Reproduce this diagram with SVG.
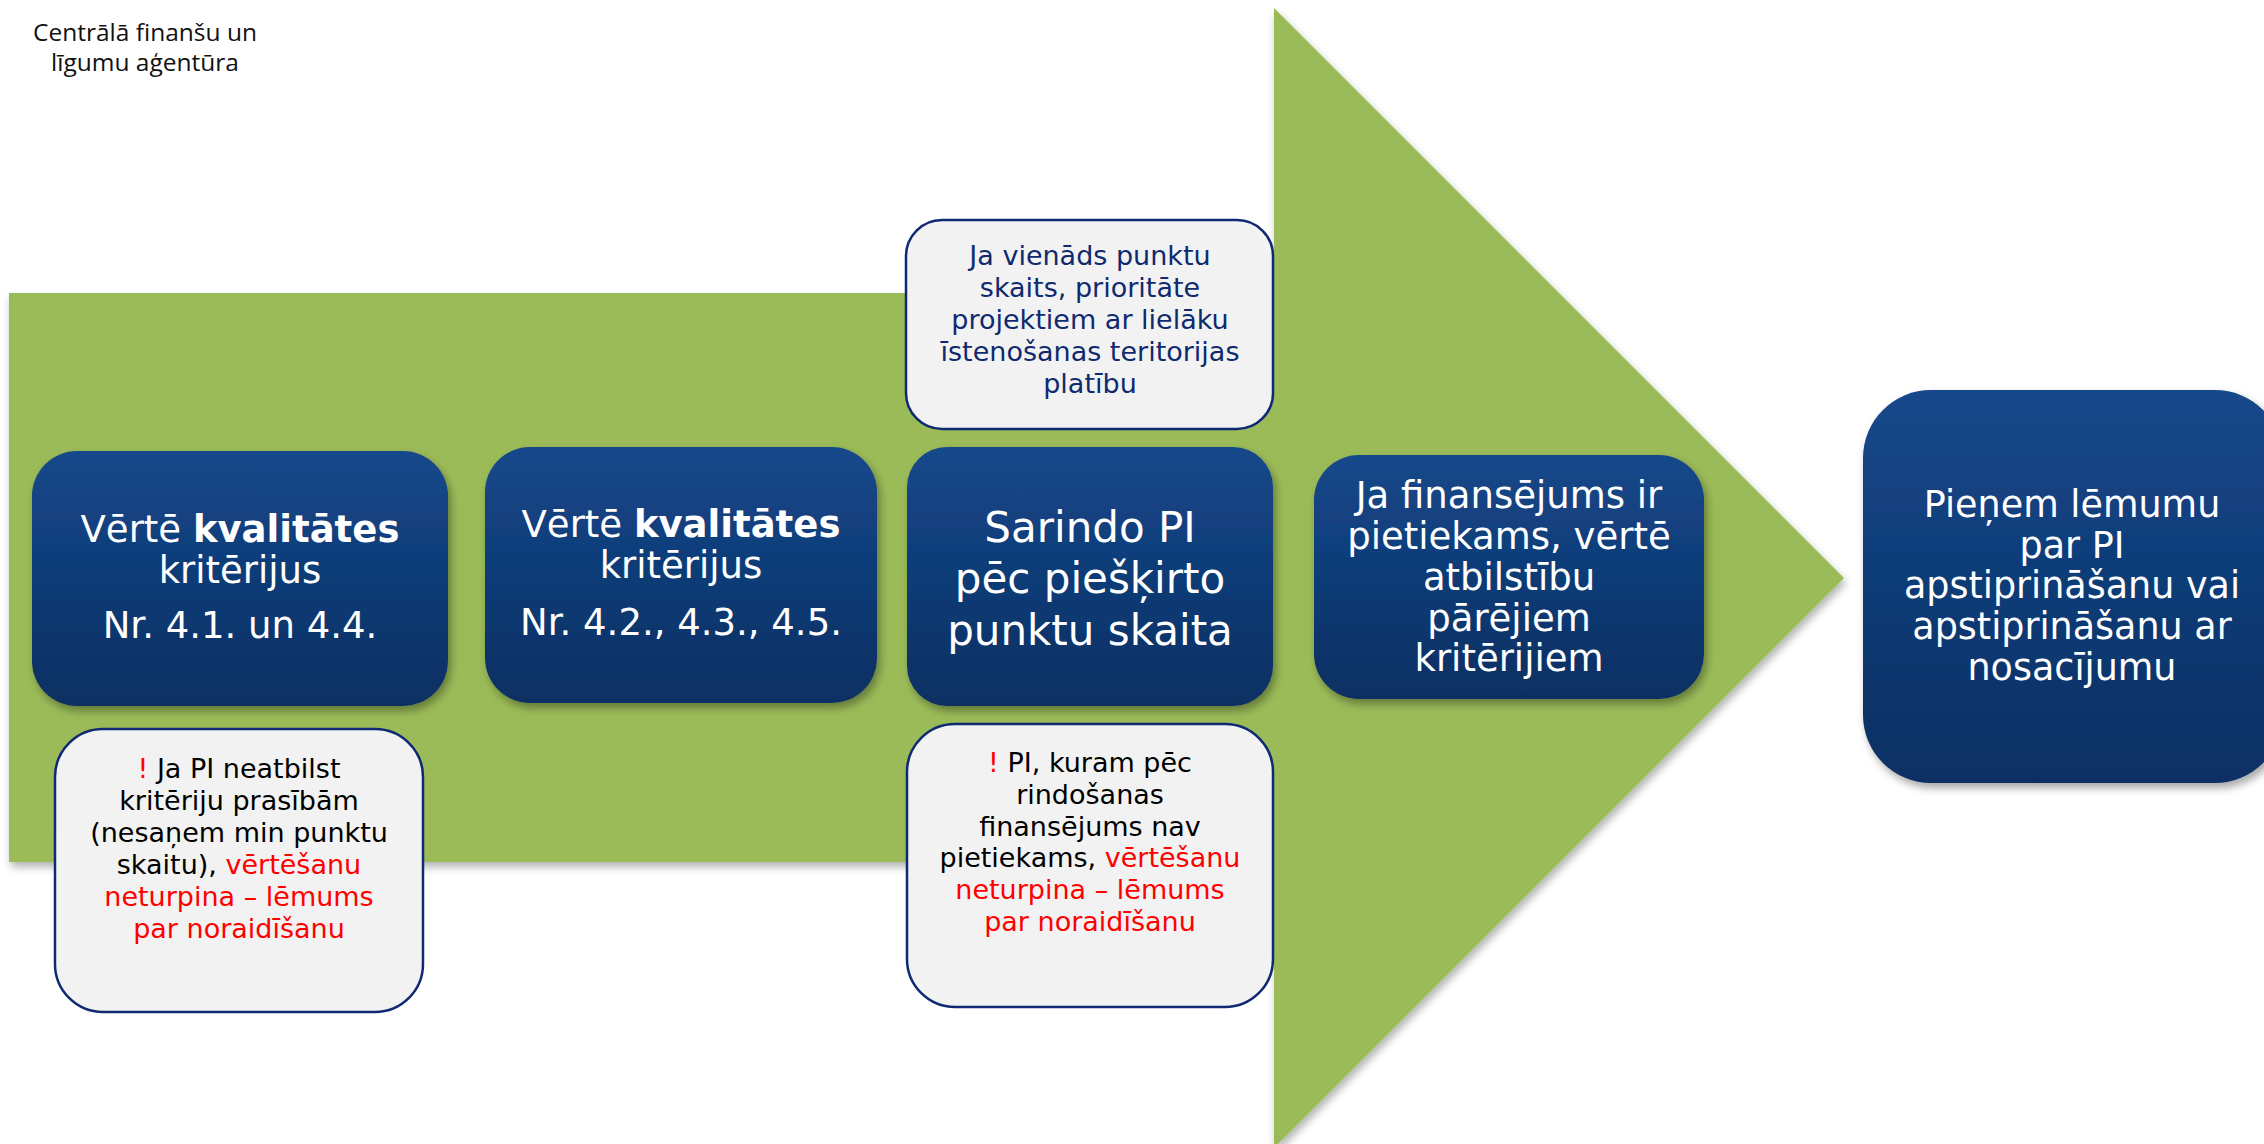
<svg xmlns="http://www.w3.org/2000/svg" width="2264" height="1144" viewBox="0 0 2264 1144">
<defs>
<linearGradient id="blue" x1="0" y1="0" x2="0" y2="1">
<stop offset="0" stop-color="#15488b"/>
<stop offset="1" stop-color="#0a2f62"/>
</linearGradient>
<filter id="sh" x="-10%" y="-10%" width="125%" height="130%">
<feDropShadow dx="3" dy="5" stdDeviation="4" flood-color="#000" flood-opacity="0.35"/>
</filter>
<filter id="shg" x="-5%" y="-5%" width="110%" height="110%">
<feDropShadow dx="2" dy="5" stdDeviation="4" flood-color="#000" flood-opacity="0.3"/>
</filter>
</defs>
<style>
.bx{fill:url(#blue);filter:url(#sh)}
.nt{fill:#f2f2f2;stroke:#0f2a73;stroke-width:2.5}
.wt{font-family:"DejaVu Sans",Verdana,sans-serif;fill:#fff;text-anchor:middle}
.nv{font-family:"DejaVu Sans",Verdana,sans-serif;fill:#0f2a6e;text-anchor:middle;font-size:27px}
.bk{font-family:"DejaVu Sans",Verdana,sans-serif;fill:#000;text-anchor:middle;font-size:27px}
.r{fill:#ff0000}
.logo{font-family:"Open Sans","Noto Sans",sans-serif;font-size:24.5px;fill:#111;text-anchor:middle}
</style>
<rect width="2264" height="1144" fill="#fff"/>
<g id="arrow">
<path d="M9,293 L1274,293 L1274,8 L1844,578 L1274,1148 L1274,862 L9,862 Z" fill="#9bbb59" filter="url(#shg)"/>
</g>
<g id="logo">
<text class="logo" x="145" y="41">Centrālā finanšu un</text>
<text class="logo" x="145" y="71">līgumu aģentūra</text>
</g>
<g id="connectors"/>
<g id="n1">
<rect class="bx" x="32" y="451" width="416" height="255" rx="45"/>
<text class="wt" font-size="37"><tspan x="240" y="542">Vērtē <tspan font-weight="bold">kvalitātes</tspan></tspan><tspan x="240" y="583">kritērijus</tspan><tspan x="240" y="638">Nr. 4.1. un 4.4.</tspan></text>
</g>
<g id="n2">
<rect class="bx" x="485" y="447" width="392" height="256" rx="45"/>
<text class="wt" font-size="37"><tspan x="681" y="537">Vērtē <tspan font-weight="bold">kvalitātes</tspan></tspan><tspan x="681" y="578">kritērijus</tspan><tspan x="681" y="635">Nr. 4.2., 4.3., 4.5.</tspan></text>
</g>
<g id="n3note">
<rect class="nt" x="906" y="220" width="367" height="209" rx="36"/>
<text class="nv"><tspan x="1090" y="265">Ja vienāds punktu</tspan><tspan x="1090" y="297">skaits, prioritāte</tspan><tspan x="1090" y="329">projektiem ar lielāku</tspan><tspan x="1090" y="361">īstenošanas teritorijas</tspan><tspan x="1090" y="393">platību</tspan></text>
</g>
<g id="n3">
<rect class="bx" x="907" y="447" width="366" height="259" rx="40"/>
<text class="wt" font-size="42"><tspan x="1090" y="542">Sarindo PI</tspan><tspan x="1090" y="593">pēc piešķirto</tspan><tspan x="1090" y="645">punktu skaita</tspan></text>
</g>
<g id="n4">
<rect class="bx" x="1314" y="455" width="390" height="244" rx="45"/>
<text class="wt" font-size="37"><tspan x="1509" y="508">Ja finansējums ir</tspan><tspan x="1509" y="549">pietiekams, vērtē</tspan><tspan x="1509" y="590">atbilstību</tspan><tspan x="1509" y="631">pārējiem</tspan><tspan x="1509" y="671">kritērijiem</tspan></text>
</g>
<g id="n5">
<rect class="bx" x="1863" y="390" width="420" height="393" rx="68"/>
<text class="wt" font-size="36.5"><tspan x="2072" y="517">Pieņem lēmumu</tspan><tspan x="2072" y="558">par PI</tspan><tspan x="2072" y="598">apstiprināšanu vai</tspan><tspan x="2072" y="639">apstiprināšanu ar</tspan><tspan x="2072" y="680">nosacījumu</tspan></text>
</g>
<g id="n1note">
<rect class="nt" x="55" y="729" width="368" height="283" rx="48"/>
<text class="bk"><tspan x="239" y="778"><tspan class="r">!</tspan> Ja PI neatbilst</tspan><tspan x="239" y="810">kritēriju prasībām</tspan><tspan x="239" y="842">(nesaņem min punktu</tspan><tspan x="239" y="874">skaitu), <tspan class="r">vērtēšanu</tspan></tspan><tspan class="r" x="239" y="906">neturpina – lēmums</tspan><tspan class="r" x="239" y="938">par noraidīšanu</tspan></text>
</g>
<g id="n3note2">
<rect class="nt" x="907" y="724" width="366" height="283" rx="48"/>
<text class="bk"><tspan x="1090" y="772"><tspan class="r">!</tspan> PI, kuram pēc</tspan><tspan x="1090" y="804">rindošanas</tspan><tspan x="1090" y="836">finansējums nav</tspan><tspan x="1090" y="867">pietiekams, <tspan class="r">vērtēšanu</tspan></tspan><tspan class="r" x="1090" y="899">neturpina – lēmums</tspan><tspan class="r" x="1090" y="931">par noraidīšanu</tspan></text>
</g>
</svg>
